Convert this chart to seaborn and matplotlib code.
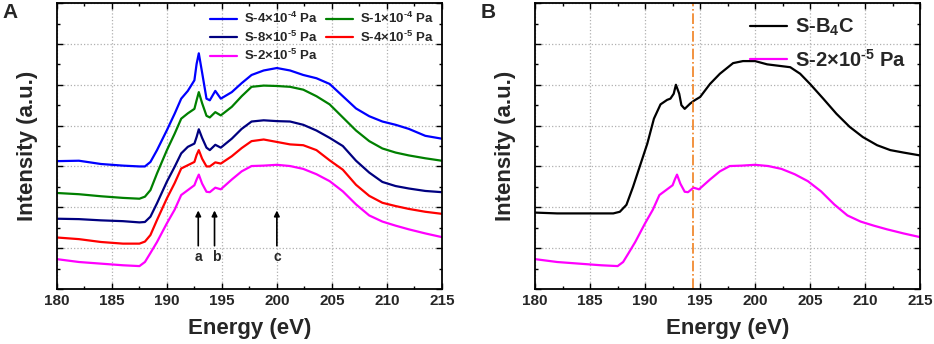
import matplotlib
matplotlib.use("Agg")
import matplotlib.pyplot as plt
from matplotlib.ticker import MultipleLocator, NullFormatter
import seaborn as sns

# energy grid (eV) for panel A curves
energy_a = [180, 182, 184, 186, 187.5, 188, 188.5, 189.1, 190, 190.7, 191.3, 191.9, 192.5,
            192.7, 192.9, 193.2, 193.6, 193.9, 194.4, 194.9, 195.9, 196.8, 197.7, 198.8,
            200, 201.2, 202.4, 203.6, 204.8, 206, 207.2, 208.4, 209.6, 210.8, 212, 213.5, 215]
s_4e4 = [3.13, 3.14, 3.06, 3.02, 3.00, 3.00, 3.11, 3.40, 3.89, 4.29, 4.66, 4.85, 5.11,
         5.51, 5.77, 5.30, 4.66, 4.62, 4.85, 4.66, 4.82, 5.04, 5.24, 5.35,
         5.41, 5.35, 5.24, 5.16, 5.02, 4.72, 4.42, 4.23, 4.10, 4.02, 3.92, 3.75, 3.68]
s_1e4 = [2.35, 2.32, 2.27, 2.23, 2.21, 2.26, 2.42, 2.83, 3.40, 3.80, 4.17, 4.30, 4.41,
         4.62, 4.82, 4.55, 4.24, 4.20, 4.33, 4.25, 4.46, 4.72, 4.95, 4.98,
         4.97, 4.95, 4.88, 4.72, 4.52, 4.20, 3.88, 3.62, 3.44, 3.34, 3.27, 3.20, 3.14]
s_8e5 = [1.72, 1.71, 1.68, 1.66, 1.63, 1.64, 1.77, 2.10, 2.63, 2.99, 3.32, 3.48, 3.56,
         3.72, 3.91, 3.70, 3.46, 3.40, 3.53, 3.46, 3.68, 3.92, 4.10, 4.13,
         4.11, 4.10, 4.02, 3.88, 3.70, 3.50, 3.14, 2.85, 2.62, 2.52, 2.46, 2.40, 2.37]
s_4e5 = [1.26, 1.22, 1.15, 1.11, 1.11, 1.16, 1.32, 1.69, 2.22, 2.59, 2.95, 3.03, 3.11,
         3.28, 3.40, 3.19, 3.00, 3.00, 3.10, 3.07, 3.25, 3.45, 3.62, 3.66,
         3.60, 3.54, 3.52, 3.40, 3.15, 2.92, 2.55, 2.28, 2.11, 2.03, 1.96, 1.89, 1.84]
s_2e5 = [0.73, 0.66, 0.62, 0.58, 0.56, 0.66, 0.88, 1.15, 1.61, 1.94, 2.30, 2.42, 2.54,
         2.68, 2.80, 2.58, 2.38, 2.37, 2.48, 2.44, 2.68, 2.88, 3.01, 3.02,
         3.04, 3.01, 2.94, 2.81, 2.64, 2.39, 2.07, 1.80, 1.65, 1.55, 1.46, 1.36, 1.27]

# panel B reference curve
energy_b = [180, 182, 184, 187.1, 187.7, 188.3, 188.9, 189.5, 190.2, 190.8, 191.4, 192.0,
            192.3, 192.6, 192.8, 193.1, 193.3, 193.6, 194.1, 194.5, 195.0, 195.9, 196.8,
            198.0, 198.9, 200, 201.1, 202.3, 203.2, 204.1, 205, 206.2, 207.4, 208.6,
            209.8, 211.1, 212.3, 213.5, 215]
s_b4c = [1.87, 1.85, 1.85, 1.85, 1.89, 2.06, 2.50, 2.99, 3.56, 4.17, 4.52, 4.63,
         4.66, 4.78, 5.00, 4.78, 4.50, 4.41, 4.54, 4.62, 4.70, 5.02, 5.27,
         5.53, 5.58, 5.58, 5.50, 5.46, 5.43, 5.27, 5.02, 4.66, 4.29, 3.97,
         3.72, 3.52, 3.40, 3.34, 3.27]

labels_a = [r"S-4×10$^{\text{-4}}$ Pa", r"S-1×10$^{\text{-4}}$ Pa", r"S-8×10$^{\text{-5}}$ Pa",
            r"S-4×10$^{\text{-5}}$ Pa", r"S-2×10$^{\text{-5}}$ Pa"]
colors_a = ["#0000ff", "#008000", "#000080", "#ff0000", "#ff00ff"]
arrow_x = [192.85, 194.33, 200.0]
arrow_txt = ["a", "b", "c"]
vline_x = 194.33

sns.set_theme(style="ticks")
plt.rcParams["font.family"] = ["Liberation Sans", "DejaVu Sans"]
plt.rcParams["font.weight"] = "bold"
plt.rcParams["mathtext.fontset"] = "custom"
plt.rcParams["mathtext.rm"] = "Liberation Sans:bold"
plt.rcParams["mathtext.bf"] = "Liberation Sans:bold"
plt.rcParams["mathtext.default"] = "bf"
plt.rcParams["lines.solid_joinstyle"] = "round"
plt.rcParams["lines.solid_capstyle"] = "round"

fig = plt.figure(figsize=(9.34, 3.44), dpi=100)
axA = fig.add_axes([0.061, 0.160, 0.412, 0.831])
axB = fig.add_axes([0.573, 0.160, 0.412, 0.831])

#panel A curves
series = [s_4e4, s_1e4, s_8e5, s_4e5, s_2e5]
lines = []
for vals, lab, col in zip(series, labels_a, colors_a):
    sns.lineplot(x=energy_a, y=vals, ax=axA, color=col, linewidth=1.6, label=lab)
    lines.append(axA.get_lines()[-1])

for xa, t in zip(arrow_x, arrow_txt):
    axA.annotate("", xy=(xa, 1.99), xytext=(xa, 0.99),
                 arrowprops=dict(arrowstyle="-|>", color="black", lw=1.2, mutation_scale=8))
    axA.text(xa + (0.15 if t == "b" else 0), 0.78, t, ha="center", va="center",
             fontsize=10, fontweight="bold")

order = [0, 2, 4, 1, 3]
axA.legend([lines[i] for i in order], [labels_a[i] for i in order], ncol=2,
           loc="upper right", frameon=False, handlelength=2.1,
           columnspacing=0.6, labelspacing=0.25, borderaxespad=0.2, handletextpad=0.5,
           prop={"weight": "bold", "size": 9.5})

#panel B curves
sns.lineplot(x=energy_b, y=s_b4c, ax=axB, color="black", linewidth=1.6, label="S-B$_4$C")
sns.lineplot(x=energy_a, y=s_2e5, ax=axB, color="#ff00ff", linewidth=1.6,
             label=r"S-2×10$^{\text{-5}}$ Pa")
axB.axvline(vline_x, color="#f08020", linestyle="-.", linewidth=1.2)
axB.legend(loc="upper right", frameon=False, handlelength=1.8, labelspacing=0.5,
           borderaxespad=0.3, handletextpad=0.4, prop={"weight": "bold", "size": 14.5})

for ax, letter in [(axA, "A"), (axB, "B")]:
    ax.set_xlim(180, 215)
    ax.set_ylim(0, 7)
    ax.xaxis.set_major_locator(MultipleLocator(5))
    ax.xaxis.set_minor_locator(MultipleLocator(2.5))
    ax.yaxis.set_major_locator(MultipleLocator(1))
    ax.yaxis.set_minor_locator(MultipleLocator(0.5))
    ax.yaxis.set_major_formatter(NullFormatter())
    ax.tick_params(which="both", direction="in", top=True, right=True, color="black")
    ax.tick_params(which="major", length=4, width=1.0, labelsize=11)
    ax.tick_params(which="minor", length=2.5, width=1.0)
    ax.grid(which="major", color="#b0b0b0", linestyle=":", linewidth=0.9)
    for sp in ax.spines.values():
        sp.set_linewidth(1.3)
        sp.set_color("black")
    for lab in ax.get_xticklabels():
        lab.set_fontweight("bold")
    ax.set_xlabel("Energy (eV)", fontsize=16, fontweight="bold", labelpad=7)
    ax.set_ylabel("Intensity (a.u.)", fontsize=16, fontweight="bold", labelpad=10)
    pos = ax.get_position()
    fig.text(pos.x0 - 0.058, 0.965, letter, fontsize=15, fontweight="bold",
             ha="left", va="center")

fig.savefig("out.png", dpi=100)
